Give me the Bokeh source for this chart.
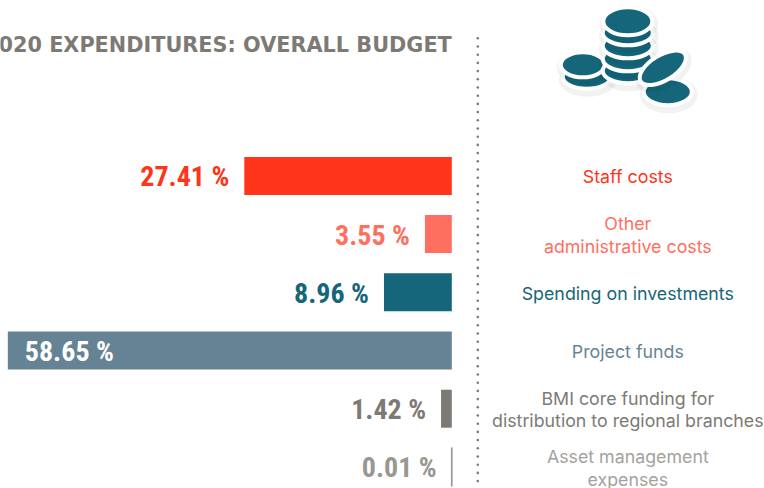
import numpy as np
from bokeh.plotting import figure
from bokeh.models import Range1d, ColumnDataSource
from bokeh.core.properties import value
from bokeh.embed import file_html
from bokeh.resources import INLINE

title = "2020 EXPENDITURES: OVERALL BUDGET"
categories = ["Staff costs", "Other\nadministrative costs", "Spending on investments",
              "Project funds", "BMI core funding for\ndistribution to regional branches",
              "Asset management\nexpenses"]
shares = [27.41, 3.55, 8.96, 58.65, 1.42, 0.01]
share_labels = ["27.41 %", "3.55 %", "8.96 %", "58.65 %", "1.42 %", "0.01 %"]
colors = ["#ff3419", "#ff6f60", "#15667a", "#658394", "#7d7a75", "#9a9692"]
label_colors = ["#ff3419", "#ff6f60", "#15667a", "#658394", "#7d7a75", "#a5a19d"]

W, H = 764, 488
PX_PER_UNIT = 7.57
ZERO_X = 451.3
ROW0, ROW_STEP = 175.4, 58.2
SHIFT = 0.7

p = figure(width=W, height=H, output_backend="svg", toolbar_location=None,
           x_axis_type=None, y_axis_type=None, min_border=0,
           x_range=Range1d(ZERO_X / PX_PER_UNIT, (ZERO_X - W) / PX_PER_UNIT),
           y_range=Range1d((H - ROW0) / ROW_STEP, -ROW0 / ROW_STEP),
           outline_line_color=None, background_fill_color="white",
           border_fill_color="white")
p.grid.visible = False
p.extra_x_ranges["px"] = Range1d(SHIFT, W + SHIFT)
p.extra_y_ranges["px"] = Range1d(H + SHIFT, SHIFT)

idx = list(range(len(shares)))
src = ColumnDataSource(dict(y=idx, v=shares, lab=share_labels, cat=categories, col=colors, lcol=label_colors,
                            zero=[0] * 6, lw=[0, 0, 0, 0, 0, 1.6]))
p.hbar(y="y", left="zero", right="v", height=38 / ROW_STEP, fill_color="col", line_color="col", line_width="lw", source=src)

out = ColumnDataSource({k: [src.data[k][i] for i in idx if i != 3] for k in ("y", "v", "lab", "col")})
ins = ColumnDataSource({k: [src.data[k][3]] for k in ("y", "v", "lab")})
fnum = dict(text_font=value("Roboto Condensed"), text_font_style="bold", text_font_size="28px",
            text_baseline="middle")
p.text(x="v", y="y", text="lab", text_color="col", text_align="right", x_offset=-15, y_offset=1, source=out, **fnum)
p.text(x="v", y="y", text="lab", text_color="white", text_align="left", x_offset=17, y_offset=1, source=ins, **fnum)

# category labels
p.text(x="x", y="y", text="cat", text_color="c", text_align="center", text_baseline="middle",
       text_font=value("Inter"), text_font_size="17.8px", text_line_height=1.07, y_offset=1,
       x_range_name="px", source=ColumnDataSource(dict(x=[628] * 6, y=idx, cat=categories, c=label_colors)))

# title
p.text(x=[452], y=[45], text=[title], text_color="#7d7a75", text_align="right", text_baseline="middle",
       text_font=value("DejaVu Sans"), text_font_style="bold", text_font_size="20.8px",
       x_range_name="px", y_range_name="px")

# divider
dots = np.arange(38.5, 488, 8.2)
p.scatter(x=[478] * len(dots), y=dots, size=2.6, fill_color="#7d7a75", line_color=None,
          x_range_name="px", y_range_name="px")

# coin icon
TEAL = "#15667a"
def coin(x, y, w, h, angle=0):
    p.ellipse(x=[x + 1], y=[y + 3], width=[w + 10], height=[h + 10], angle=angle, fill_color="#000000", fill_alpha=0.05,
              line_color=None, x_range_name="px", y_range_name="px")
    p.ellipse(x=[x], y=[y], width=[w], height=[h], angle=angle, fill_color=TEAL, line_color="white", line_width=4,
              x_range_name="px", y_range_name="px")

for c in [(587, 77, 48, 24), (583, 65, 44, 25),
          (628, 71, 50, 25), (628, 59, 50, 25), (628, 46, 50, 25), (628, 33, 50, 25), (628, 21.5, 49, 28),
          (668, 92, 48, 27)]:
    coin(*c)
coin(663, 68, 52, 25, angle=0.55)

open("out.html", "w").write(file_html(p, INLINE))
